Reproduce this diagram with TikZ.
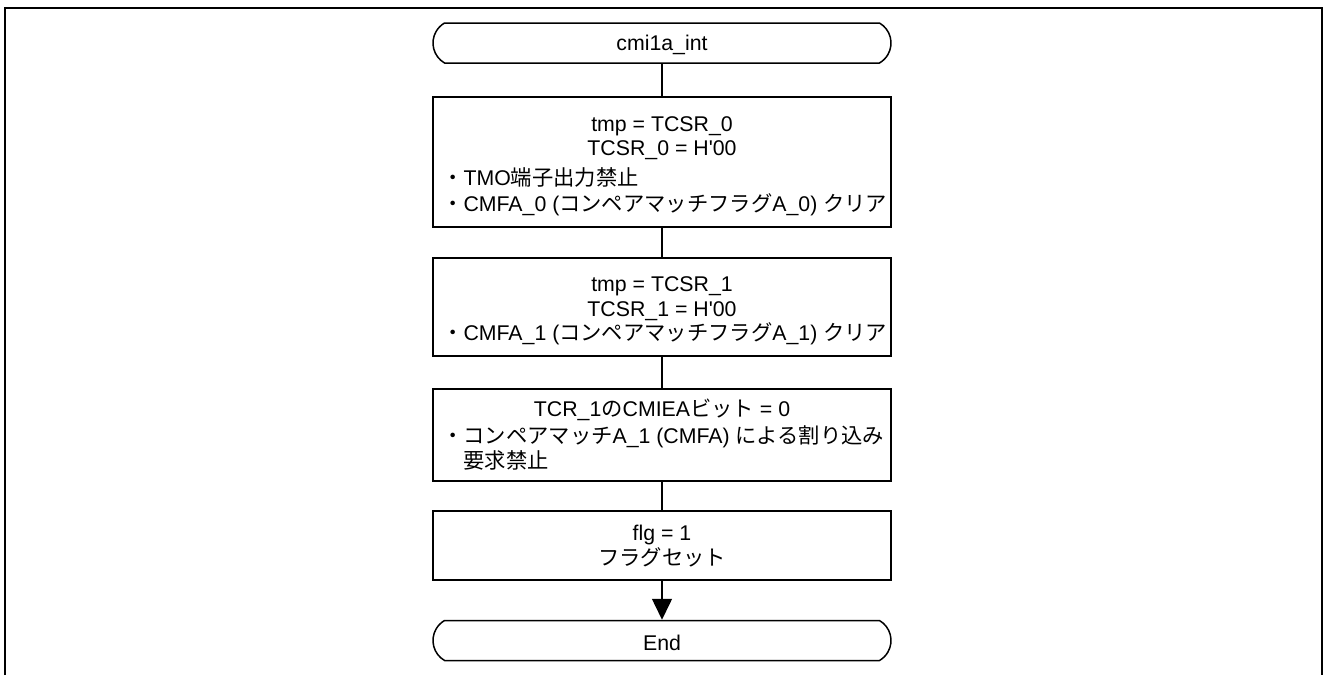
\documentclass[tikz,border=0pt]{standalone}
\usepackage{fontspec}
\setmainfont{Liberation Sans}
\newfontfamily\cjk{Noto Sans CJK JP}
\usetikzlibrary{arrows.meta,shapes.misc}
\newcommand\jp[1]{{\cjk #1}}
\begin{document}
\begin{tikzpicture}[x=1pt,y=-1pt,
  every node/.style={font=\fontsize{21.3}{24}\selectfont},
  box/.style={draw, line width=1.5pt, minimum width=458pt, inner sep=0pt},
  term/.style={draw, line width=1.5pt, minimum width=458pt, minimum height=40pt, rounded rectangle, rounded rectangle arc length=120, inner sep=0pt},
  ctext/.style={inner sep=0pt, anchor=base},
  ltext/.style={inner sep=0pt, anchor=base west},
  conn/.style={line width=1.5pt}]
\useasboundingbox (0,0) rectangle (1324,675);
\draw[line width=2.5pt] (5,675) -- (5,8) -- (1322,8) -- (1322,675);

\node[term] (start) at (662,43) {};
\node[ctext] (ts) at (662,50) {cmi1a\_int};

\node[box, minimum height=130pt] (b1) at (662,162) {};
\node[ctext] (t1a) at (662,131) {tmp = TCSR\_0};
\node[ctext] (t1b) at (662,155) {TCSR\_0 = H\textquotesingle 00};
\node[ltext] (t1c) at (442,185) {\jp{・}TMO\jp{端子出力禁止}};
\node[ltext] (t1d) at (442,211) {\jp{・}CMFA\_0 (\jp{コンペアマッチフラグ}A\_0) \jp{クリア}};

\node[box, minimum height=98pt] (b2) at (662,307) {};
\node[ctext] (t2a) at (662,291) {tmp = TCSR\_1};
\node[ctext] (t2b) at (662,316) {TCSR\_1 = H\textquotesingle 00};
\node[ltext] (t2c) at (442,340) {\jp{・}CMFA\_1 (\jp{コンペアマッチフラグ}A\_1) \jp{クリア}};

\node[box, minimum height=92pt] (b3) at (662,435) {};
\node[ctext] (t3a) at (662,416) {TCR\_1\jp{の}CMIEA\jp{ビット} = 0};
\node[ltext] (t3b) at (442,443) {\jp{・コンペアマッチ}A\_1 (CMFA) \jp{による割り込み}};
\node[ltext] (t3c) at (463.3,468) {\jp{要求禁止}};

\node[box, minimum height=69pt] (b4) at (662,545.5) {};
\node[ctext] (t4a) at (662,540) {flg = 1};
\node[ctext] (t4b) at (662,565) {\jp{フラグセット}};

\node[term] (stop) at (662,640.5) {};
\node[ctext] (te) at (662,650) {End};

\draw[conn] (start.south) -- (b1.north);
\draw[conn] (b1.south) -- (b2.north);
\draw[conn] (b2.south) -- (b3.north);
\draw[conn] (b3.south) -- (b4.north);
\draw[conn, -{Triangle[width=20pt,length=21pt]}] (b4.south) -- (stop.north);
\end{tikzpicture}
\end{document}
